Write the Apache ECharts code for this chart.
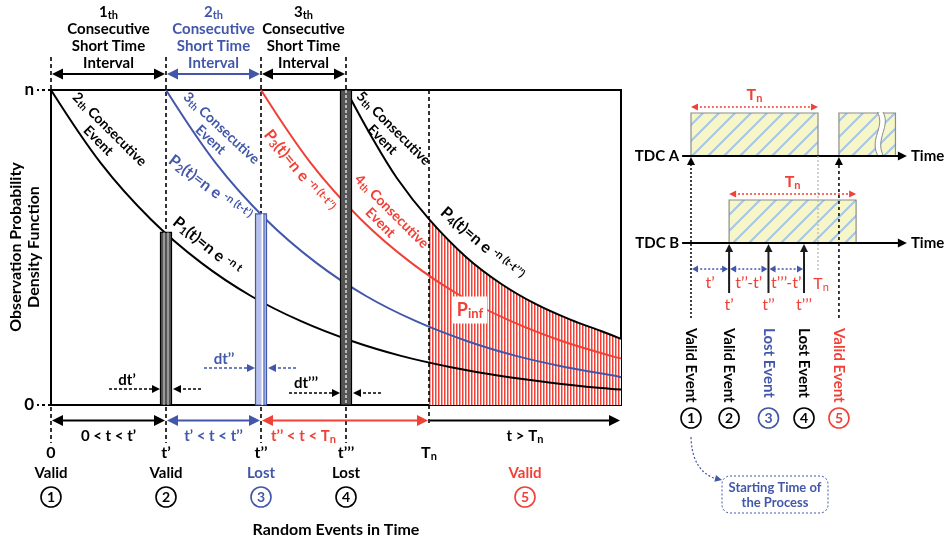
<!DOCTYPE html>
<html><head><meta charset="utf-8">
<script src="https://cdn.jsdelivr.net/npm/echarts@6/dist/echarts.min.js"></script>
<style>html,body{margin:0;padding:0;background:#fff}#c{width:946px;height:540px}</style>
</head><body><div id="c"></div>
<script>
// ================= DATA =================
// main chart (time axis in arbitrary units, probability axis 0..n with n = 1)
const eventTimes = [0, 1.15, 2.10, 2.95];          // 0, t', t'', t'''
const Tn = 3.78;
const tMax = 5.70;
const tickLabels = ['0', 't’', 't’’', 't’’’', 'T_n'];
const yTickLabels = ['0', 'n'];
const eventStatus = ['Valid', 'Valid', 'Lost', 'Lost', 'Valid'];
const eventNumbers = ['1', '2', '3', '4', '5'];
const intervalOrdinals = ['1', '2', '3'];
const bottomIntervalLabels = ['0 < t < t’', 't’ < t < t’’', 't’’ < t < T_n', 't > T_n'];
const p1 = [[0,1],[0.5,0.767],[1,0.589],[1.5,0.452],[2,0.346],[2.5,0.266],[3,0.204],[3.5,0.156],[4,0.12],[4.5,0.092],[5,0.071],[5.5,0.054],[5.7,0.049]];
const p2 = [[1.15,1],[1.65,0.767],[2.15,0.589],[2.65,0.452],[3.15,0.346],[3.65,0.266],[4.15,0.204],[4.65,0.156],[5.15,0.12],[5.65,0.092],[5.7,0.088]];
const p3 = [[2.1,1],[2.6,0.767],[3.1,0.589],[3.6,0.452],[4.1,0.346],[4.6,0.266],[5.1,0.204],[5.6,0.156],[5.7,0.148]];
const p4 = [[2.95,1],[3.2,0.855],[3.46,0.72],[3.78,0.59],[4.15,0.47],[4.5,0.385],[4.85,0.32],[5.2,0.27],[5.5,0.235],[5.7,0.21]];
const dtStrips = [[1.15, 0.548], [2.10, 0.607], [2.95, 1.0]];   // [t, value at top of strip]
const dtLabels = ['dt’', 'dt’’', 'dt’’’'];

// right-hand timing diagram (time in units of Tn)
const tdcLanes = ['TDC A', 'TDC B'];
const tdcAxisSpan = [-0.07, 1.70];
const tdcBoxes = [[0, 1, 1], [1.165, 1.61, 1], [0.30, 1.30, 0]];  // [start, end, lane]
const tdcBreakAt = 1.49;
const diagEventTimes = [0, 0.30, 0.61, 0.89, 1.165];
const diagEventLane = [1, 0, 0, 0, 1];
const diagEventStatus = ['Valid Event', 'Valid Event', 'Lost Event', 'Lost Event', 'Valid Event'];
const diagEventLabels = ['', 't’', 't’’', 't’’’', ''];
const diagGapLabels = ['t’', 't’’-t’', 't’’’-t’'];
const startNote = 'Starting Time of\nthe Process';

// ================= STYLE =================
const F = 'Lato, "Liberation Sans", Arial, sans-serif';
const BLK = '#000', BLUE = '#4257a9', RED = '#ef4136';
const statusColors = [BLK, BLK, BLUE, BLK, RED];
const laneLevel = [1, 0];

function richSet(color, size, weight, al) {
  const small = Math.round(size * 0.7);
  return {
    b: {fontSize: size, fontWeight: weight, fontFamily: F, fill: color, color: color, lineHeight: Math.round(size * 1.15), align: al},
    s: {fontSize: small, fontWeight: weight, fontFamily: F, fill: color, color: color, lineHeight: small, verticalAlign: 'bottom', align: al},
    u: {fontSize: small, fontWeight: weight, fontFamily: F, fill: color, color: color, lineHeight: small, verticalAlign: 'top', align: al}
  };
}
function txt(x, y, text, color, size, o) {
  o = o || {};
  const al = o.align || 'center';
  const w = o.weight || 'bold';
  return {type: 'text', x: x, y: y, rotation: o.rot || 0, z: 20, z2: 20,
    style: {text: text, align: al, verticalAlign: o.va || 'middle', rich: richSet(color, size, w, al),
      fill: color, fontSize: size, fontFamily: F, fontWeight: w,
      backgroundColor: o.bg, padding: o.pad}};
}
function rt(s) { return s.split('T_n').map(p => p ? '{b|' + p + '}' : '').join('{b|T}{s|n}'); }
function headPts(x, y, ang, len, w) {
  const bx = x - len * Math.cos(ang), by = y - len * Math.sin(ang);
  const px = -Math.sin(ang) * w, py = Math.cos(ang) * w;
  return [[x, y], [bx + px, by + py], [bx - px, by - py]];
}
function arrowLine(x1, y1, x2, y2, color, o) {
  const ang = Math.atan2(y2 - y1, x2 - x1);
  const len = o.len || 10, hw = o.w || 5;
  let sx = x1, sy = y1, ex = x2, ey = y2;
  if (o.start) { sx += Math.cos(ang) * len * 0.7; sy += Math.sin(ang) * len * 0.7; }
  if (o.end) { ex -= Math.cos(ang) * len * 0.7; ey -= Math.sin(ang) * len * 0.7; }
  const ch = [{type: 'line', shape: {x1: sx, y1: sy, x2: ex, y2: ey}, style: {stroke: color, lineWidth: o.width || 2, lineDash: o.dash || null}}];
  if (o.end) ch.push({type: 'polygon', shape: {points: headPts(x2, y2, ang, len, hw)}, style: {fill: color}});
  if (o.start) ch.push({type: 'polygon', shape: {points: headPts(x1, y1, ang + Math.PI, len, hw)}, style: {fill: color}});
  return ch;
}
function makeStripes() {
  const c = document.createElement('canvas'); c.width = 3; c.height = 4;
  const g = c.getContext('2d'); g.fillStyle = '#fff'; g.fillRect(0, 0, 3, 4);
  g.fillStyle = RED; g.fillRect(0, 0, 1.5, 4); return c;
}
function makeHatch() {
  const c = document.createElement('canvas'); c.width = 16; c.height = 16;
  const g = c.getContext('2d');
  g.fillStyle = '#f6f6c8'; g.fillRect(0, 0, 16, 16);
  g.strokeStyle = '#a3c6e6'; g.lineWidth = 2;
  [[-2, 18, 18, -2], [-2, 2, 2, -2], [14, 18, 18, 14]].forEach(l => { g.beginPath(); g.moveTo(l[0], l[1]); g.lineTo(l[2], l[3]); g.stroke(); });
  return c;
}
const stripes = makeStripes();
const hatch = makeHatch();

const chart = echarts.init(document.getElementById('c'), null, {renderer: 'canvas'});

const tTicks = eventTimes.concat([Tn]);
const topIntervals = eventTimes.slice(0, 3).map((t, i) => [t, eventTimes[i + 1]]);
const bottomIntervals = [[eventTimes[0], eventTimes[1]], [eventTimes[1], eventTimes[2]], [eventTimes[2], Tn], [Tn, tMax]];
const bottomColors = [BLK, BLUE, RED, BLK];
const topColors = [BLK, BLUE, BLK];

const series = [
  {type: 'line', name: 'Pinf', data: p4.filter(d => d[0] >= Tn), smooth: 0.35, symbol: 'none', z: 1,
    lineStyle: {width: 0}, areaStyle: {color: {image: stripes, repeat: 'repeat'}, opacity: 1}},
  {type: 'custom', name: 'eventLines', coordinateSystem: 'cartesian2d', clip: false, z: 2,
    data: tTicks.map((t, i) => [t, i]),
    renderItem(params, api) {
      const i = params.dataIndex, t = api.value(0);
      const top = api.coord([t, 1]), bot = api.coord([t, 0]);
      const y1 = i < 4 ? top[1] - 33 : top[1];
      const y2 = i < 4 ? bot[1] + 38 : bot[1] + 21;
      return {type: 'line', shape: {x1: top[0], y1: y1, x2: top[0], y2: y2}, style: {stroke: BLK, lineWidth: 1.6, lineDash: [4, 3]}};
    }},
  {type: 'line', name: 'P1', data: p1, smooth: 0.35, symbol: 'none', z: 3, lineStyle: {color: BLK, width: 2}},
  {type: 'line', name: 'P2', data: p2, smooth: 0.35, symbol: 'none', z: 3, lineStyle: {color: BLUE, width: 2}},
  {type: 'line', name: 'P3', data: p3, smooth: 0.35, symbol: 'none', z: 3, lineStyle: {color: RED, width: 2}},
  {type: 'line', name: 'P4', data: p4, smooth: 0.35, symbol: 'none', z: 3, lineStyle: {color: BLK, width: 2}},
  {type: 'custom', name: 'strips', coordinateSystem: 'cartesian2d', clip: false, z: 4,
    data: dtStrips,
    renderItem(params, api) {
      const i = params.dataIndex;
      const pt = api.coord([api.value(0), api.value(1)]), pb = api.coord([api.value(0), 0]);
      const cx = pt[0], yT = pt[1], yB = pb[1];
      const x0 = cx - 5.5, w = 11;
      const ch = [];
      if (i === 1) {
        ch.push({type: 'rect', shape: {x: x0, y: yT, width: w, height: yB - yT}, style: {fill: '#b6c0e8', stroke: BLUE, lineWidth: 1.2}});
        ch.push({type: 'line', shape: {x1: cx + 1.5, y1: yT, x2: cx + 1.5, y2: yB}, style: {stroke: '#fff', lineWidth: 2}});
        ch.push({type: 'line', shape: {x1: cx + 3, y1: yT, x2: cx + 3, y2: yB}, style: {stroke: BLUE, lineWidth: 1}});
      } else {
        ch.push({type: 'rect', shape: {x: x0, y: yT, width: w, height: yB - yT}, style: {fill: '#555', stroke: BLK, lineWidth: 1.2}});
        if (i === 0) {
          ch.push({type: 'line', shape: {x1: x0 + 3.5, y1: yT, x2: x0 + 3.5, y2: yB}, style: {stroke: '#ddd', lineWidth: 1}});
          ch.push({type: 'line', shape: {x1: x0 + 7.5, y1: yT, x2: x0 + 7.5, y2: yB}, style: {stroke: '#ddd', lineWidth: 1}});
        } else {
          ch.push({type: 'line', shape: {x1: cx, y1: yT, x2: cx, y2: yB}, style: {stroke: '#fff', lineWidth: 1.2, lineDash: [3, 2]}});
        }
      }
      const off = [[-39, -25, -16], [-37, -46, -37], [-40, -22, -12]][i];
      const col = i === 1 ? BLUE : BLK;
      ch.push(txt(cx + off[0], yB + off[1], '{b|' + dtLabels[i] + '}', col, 15));
      const ay = yB + off[2];
      ch.push.apply(ch, arrowLine(cx - 57, ay, cx - 6, ay, col, {end: true, width: 1.3, dash: [3, 2], len: 8, w: 4}));
      ch.push.apply(ch, arrowLine(cx + 35, ay, cx + 7, ay, col, {end: true, width: 1.3, dash: [3, 2], len: 8, w: 4}));
      return {type: 'group', children: ch};
    }},
  {type: 'custom', name: 'topIntervals', coordinateSystem: 'cartesian2d', clip: false, z: 5,
    data: topIntervals,
    renderItem(params, api) {
      const i = params.dataIndex;
      const a = api.coord([api.value(0), 1]), b = api.coord([api.value(1), 1]);
      const y = a[1] - 16, col = topColors[i];
      const ch = arrowLine(a[0] + 1, y, b[0] - 1, y, col, {start: true, end: true, width: 2, len: 11, w: 5.5});
      ch.push(txt((a[0] + b[0]) / 2, a[1] - 52, '{b|' + intervalOrdinals[i] + '}{s|th}\n{b|Consecutive}\n{b|Short Time}\n{b|Interval}', col, 15));
      return {type: 'group', children: ch};
    }},
  {type: 'custom', name: 'bottomIntervals', coordinateSystem: 'cartesian2d', clip: false, z: 5,
    data: bottomIntervals,
    renderItem(params, api) {
      const i = params.dataIndex;
      const a = api.coord([api.value(0), 0]), b = api.coord([api.value(1), 0]);
      const y = a[1] + 15.5, col = bottomColors[i];
      const ch = arrowLine(a[0] + 1, y, b[0] - 1, y, col, {start: i < 3, end: true, width: 2, len: 11, w: 5.5});
      let mx = (a[0] + b[0]) / 2;
      if (i === 2) mx = (a[0] + api.coord([eventTimes[3], 0])[0]) / 2;
      ch.push(txt(mx, a[1] + 31, rt(bottomIntervalLabels[i]), col, 15));
      return {type: 'group', children: ch};
    }},
  {type: 'custom', name: 'eventLabels', coordinateSystem: 'cartesian2d', clip: false, z: 5,
    data: tTicks.map((t, i) => [t, i]),
    renderItem(params, api) {
      const i = params.dataIndex, t = api.value(0);
      const pb = api.coord([t, 0]);
      const x = pb[0], yB = pb[1];
      const sx = i < 4 ? x : api.coord([(Tn + tMax) / 2, 0])[0];
      const col = statusColors[i];
      return {type: 'group', children: [
        txt(x, yB + 48, rt(tickLabels[i]), BLK, 16),
        txt(sx, yB + 68, '{b|' + eventStatus[i] + '}', col, 15),
        {type: 'circle', shape: {cx: sx, cy: yB + 92, r: 10}, style: {fill: '#fff', stroke: col, lineWidth: 1.6}},
        txt(sx, yB + 92, '{b|' + eventNumbers[i] + '}', col, 14)
      ]};
    }},
  // ---------- right diagram ----------
  {type: 'custom', name: 'tdcBoxes', coordinateSystem: 'cartesian2d', xAxisIndex: 1, yAxisIndex: 1, clip: false, z: 2,
    data: tdcBoxes,
    renderItem(params, api) {
      const s = api.value(0), e = api.value(1), lv = api.value(2);
      const a = api.coord([s, lv]), b = api.coord([e, lv]);
      const H = 43;
      const ch = [{type: 'rect', shape: {x: a[0], y: a[1] - H, width: b[0] - a[0], height: H}, style: {fill: {image: hatch, repeat: 'repeat'}, stroke: '#8c8c8c', lineWidth: 1.2}}];
      if (tdcBreakAt > s && tdcBreakAt < e) {
        const xb = api.coord([tdcBreakAt, lv])[0];
        const wave = (dx, col, lw) => ({type: 'bezierCurve', shape: {x1: xb + dx, y1: a[1] - H - 1, x2: xb + dx, y2: a[1] - 1, cpx1: xb + dx + 8, cpy1: a[1] - H + 14, cpx2: xb + dx - 8, cpy2: a[1] - 18}, style: {stroke: col, lineWidth: lw, fill: null}});
        ch.push(wave(0, '#fff', 5), wave(-2.8, '#8c8c8c', 1), wave(2.8, '#8c8c8c', 1));
      }
      return {type: 'group', children: ch};
    }},
  {type: 'custom', name: 'tdcLanes', coordinateSystem: 'cartesian2d', xAxisIndex: 1, yAxisIndex: 1, clip: false, z: 3,
    data: tdcLanes.map((n, i) => [tdcAxisSpan[0], tdcAxisSpan[1], laneLevel[i]]),
    renderItem(params, api) {
      const i = params.dataIndex, lv = api.value(2);
      const a = api.coord([api.value(0), lv]), b = api.coord([api.value(1), lv]);
      const ch = arrowLine(a[0], a[1], b[0], b[1], BLK, {end: true, width: 2, len: 9, w: 4.5});
      ch.push(txt(a[0] - 3, a[1], '{b|' + tdcLanes[i] + '}', BLK, 15, {align: 'right'}));
      ch.push(txt(b[0] + 4, b[1], '{b|Time}', BLK, 15, {align: 'left'}));
      return {type: 'group', children: ch};
    }},
  {type: 'custom', name: 'tdcTn', coordinateSystem: 'cartesian2d', xAxisIndex: 1, yAxisIndex: 1, clip: false, z: 3,
    data: tdcBoxes.filter(d => Math.abs(d[1] - d[0] - 1) < 1e-6),
    renderItem(params, api) {
      const lv = api.value(2);
      const a = api.coord([api.value(0), lv]), b = api.coord([api.value(1), lv]);
      const y = a[1] - 49;
      const ch = arrowLine(a[0], y, b[0], y, RED, {start: true, end: true, width: 1.5, dash: [2, 2], len: 7, w: 3.5});
      ch.push(txt((a[0] + b[0]) / 2, a[1] - 61, rt('T_n'), RED, 16));
      if (params.dataIndex === 0) {
        ch.push({type: 'line', shape: {x1: b[0], y1: a[1], x2: b[0], y2: a[1] + 114}, style: {stroke: '#b5b5b5', lineWidth: 1.2, lineDash: [2, 2]}});
        ch.push(txt(b[0] + 3, a[1] + 128, rt('T_n'), RED, 16, {weight: 'normal'}));
      }
      return {type: 'group', children: ch};
    }},
  {type: 'custom', name: 'tdcGaps', coordinateSystem: 'cartesian2d', xAxisIndex: 1, yAxisIndex: 1, clip: false, z: 3,
    data: diagEventTimes.slice(0, 3).map((t, i) => [t, diagEventTimes[i + 1]]),
    renderItem(params, api) {
      const i = params.dataIndex;
      const yB = api.coord([0, 0])[1];
      const a = api.coord([api.value(0), 0])[0], b = api.coord([api.value(1), 0])[0];
      const y = yB + 26;
      const ch = arrowLine(a + 1, y, b - 1, y, BLUE, {start: true, end: true, width: 1.4, dash: [2, 2], len: 6, w: 3.5});
      ch.push(txt((a + b) / 2, yB + 40, '{b|' + diagGapLabels[i] + '}', RED, 16, {weight: 'normal'}));
      return {type: 'group', children: ch};
    }},
  {type: 'custom', name: 'tdcEvents', coordinateSystem: 'cartesian2d', xAxisIndex: 1, yAxisIndex: 1, clip: false, z: 4,
    data: diagEventTimes.map((t, i) => [t, diagEventLane[i]]),
    renderItem(params, api) {
      const i = params.dataIndex;
      const x = api.coord([api.value(0), 0])[0];
      const yA = api.coord([0, 1])[1], yB = api.coord([0, 0])[1];
      const col = statusColors[i];
      const ch = [];
      if (api.value(1) === 1) {
        ch.push.apply(ch, arrowLine(x, yA + 162, x, yA + 1, BLK, {end: true, width: 1.5, dash: i === 0 ? [2, 2] : [3, 3], len: 8, w: 4}));
      } else {
        ch.push.apply(ch, arrowLine(x, yB + 50, x, yB + 1, '#1a1a1a', {end: true, width: 2, len: 8, w: 4}));
        ch.push(txt(x, yB + 62, '{b|' + diagEventLabels[i] + '}', RED, 16, {weight: 'normal'}));
      }
      ch.push(txt(x, yA + 172, '{b|' + diagEventStatus[i] + '}', col, 15, {align: 'left', rot: -Math.PI / 2}));
      ch.push({type: 'circle', shape: {cx: x, cy: yA + 262, r: 10}, style: {fill: '#fff', stroke: col, lineWidth: 1.6}});
      ch.push(txt(x, yA + 262, '{b|' + (i + 1) + '}', col, 14));
      if (i === 0) {
        ch.push({type: 'bezierCurve', shape: {x1: x, y1: yA + 281, x2: x + 26, y2: yA + 323, cpx1: x + 1, cpy1: yA + 316}, style: {stroke: BLUE, lineWidth: 1.2, lineDash: [2, 2], fill: null}});
        ch.push({type: 'polygon', shape: {points: headPts(x + 31, yA + 324, Math.atan2(6, 26), 7, 3.5)}, style: {fill: BLUE}});
        ch.push({type: 'rect', shape: {x: x + 31, y: yA + 320, width: 106, height: 37, r: 8}, style: {fill: '#fff', stroke: BLUE, lineWidth: 1, lineDash: [2, 2]}});
        ch.push(txt(x + 84, yA + 339, startNote.split('\n').map(s => '{b|' + s + '}').join('\n'), BLUE, 13));
      }
      return {type: 'group', children: ch};
    }}
];

const annotations = [
  [104, 135, -45, '{b|2}{s|th}{b| Consecutive}\n{b|Event}', BLK, 14],
  [216, 134, -43, '{b|3}{s|th}{b| Consecutive}\n{b|Event}', BLUE, 14],
  [388, 134, -45, '{b|5}{s|th}{b| Consecutive}\n{b|Event}', BLK, 14],
  [386, 217, -45, '{b|4}{s|th}{b| Consecutive}\n{b|Event}', RED, 14],
  [210, 188, -37, '{b|P}{s|2}{b|(t)=n e }{u|-n (t-t’)}', BLUE, 16],
  [299, 171, -51, '{b|P}{s|3}{b|(t)=n e }{u|-n (t-t’’)}', RED, 16],
  [207, 246, -39, '{b|P}{s|1}{b|(t)=n e }{u|-n t}', BLK, 16],
  [482, 244, -41, '{b|P}{s|4}{b|(t)=n e }{u|-n (t-t’’’)}', BLK, 16]
];
const graphic = annotations.map(a => txt(a[0], a[1], a[3], a[4], a[5], {rot: a[2] * Math.PI / 180}));
graphic.push(txt(470, 310, '{b|P}{s|inf}', RED, 18, {bg: '#fff', pad: [3, 4, 3, 4]}));
graphic.push(txt(25, 247, '{b|Observation Probability}\n{b|Density Function}', BLK, 16, {rot: Math.PI / 2}));
graphic.push(txt(336, 530, '{b|Random Events in Time}', BLK, 16));

chart.setOption({
  animation: false,
  backgroundColor: '#fff',
  grid: [
    {left: 51, right: 325, top: 90, bottom: 135, show: true, borderColor: '#000', borderWidth: 2},
    {left: 691, width: 127, top: 156, height: 87, show: false}
  ],
  xAxis: [
    {type: 'value', gridIndex: 0, min: 0, max: tMax, axisLine: {show: true, lineStyle: {color: '#000', width: 2}}, axisTick: {show: false}, axisLabel: {show: false}, splitLine: {show: false}},
    {type: 'value', gridIndex: 1, min: 0, max: 1, show: false}
  ],
  yAxis: [
    {type: 'value', gridIndex: 0, min: 0, max: 1, interval: 1,
      axisLine: {show: true, lineStyle: {color: '#000', width: 2}},
      axisTick: {show: true, length: 14, lineStyle: {color: '#000', width: 2, type: [3, 3]}},
      axisLabel: {formatter: v => yTickLabels[v], fontFamily: F, fontWeight: 'bold', fontSize: 17, color: '#000', margin: 17},
      splitLine: {show: false}},
    {type: 'value', gridIndex: 1, min: 0, max: 1, show: false}
  ],
  series: series,
  graphic: graphic
});
</script>
</body></html>
